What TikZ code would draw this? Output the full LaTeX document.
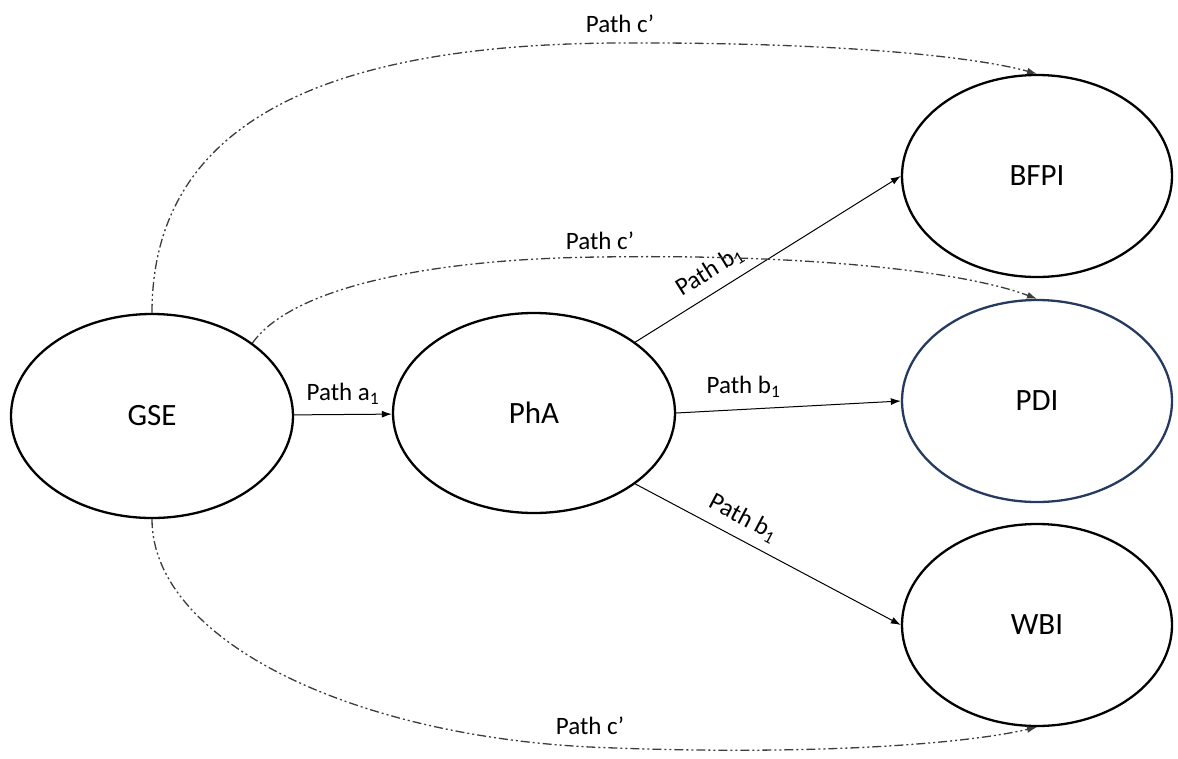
\documentclass[tikz,border=0pt]{standalone}
\usepackage{fontspec}
\setmainfont{Carlito}
\usetikzlibrary{shapes.geometric,arrows.meta}
\definecolor{pdiblue}{RGB}{38,58,96}
\definecolor{pathgray}{RGB}{60,60,60}
\begin{document}
\begin{tikzpicture}[x=1pt,y=-1pt,
    construct/.style={draw, ellipse, line width=2.3pt, inner sep=0pt,
      minimum width=282pt, minimum height=204pt, font=\fontsize{31}{36}\selectfont},
    outcome/.style={construct, minimum width=270pt, minimum height=202pt},
    direct/.style={->, >={Latex[length=10pt,width=7pt]}, line width=1pt},
    indirect/.style={->, >={Latex[length=10pt,width=7pt]}, line width=1.3pt,
      draw=pathgray, dash pattern=on 9pt off 3pt on 2pt off 3pt on 2pt off 3pt},
    pathlabel/.style={font=\fontsize{25}{30}\selectfont, text=black}]
  \useasboundingbox (0,0) rectangle (1178,758);
  \node[construct] (gse) at (152,416) {GSE};
  \node[construct, minimum height=200pt] (pha) at (534,413) {PhA};
  \node[outcome] (bfpi) at (1037,176) {BFPI};
  \node[outcome, draw=pdiblue] (pdi) at (1037,401) {PDI};
  \node[outcome] (wbi) at (1037,625) {WBI};
  \draw[direct] (gse) -- node[pathlabel, above=6pt] {Path a\textsubscript{1}} (pha);
  \draw[direct] (pha.35) -- node[pathlabel, above=6pt, sloped, pos=0.32] {Path b\textsubscript{1}} (bfpi.west);
  \draw[direct] (pha.east) -- node[pathlabel, above=8pt, pos=0.3] {Path b\textsubscript{1}} (pdi.west);
  \draw[direct] (pha.-35) -- node[pathlabel, above=6pt, sloped, pos=0.37] {Path b\textsubscript{1}} (wbi.west);
  \draw[indirect] (gse.north) .. controls (152,120) and (330,44) .. (620,43)
    node[pathlabel, above=6pt] {Path c’}
    .. controls (850,42) and (980,58) .. (bfpi.north);
  \draw[indirect] (gse.36) .. controls (290,290) and (420,259) .. (600,257)
    node[pathlabel, above=3pt] {Path c’}
    .. controls (800,254) and (960,270) .. (pdi.north);
  \draw[indirect] (gse.south) .. controls (152,640) and (350,735) .. (590,747)
    node[pathlabel, above=8pt] {Path c’}
    .. controls (800,756) and (960,745) .. (wbi.south);
\end{tikzpicture}
\end{document}
